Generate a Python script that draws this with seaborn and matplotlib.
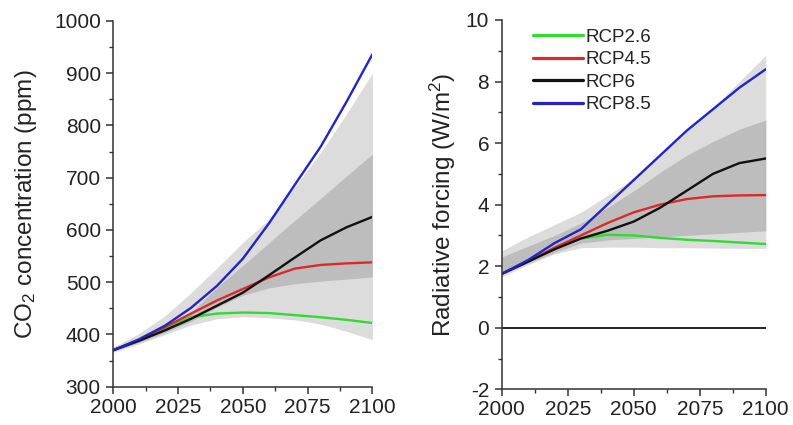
import numpy as np
import pandas as pd
import matplotlib
matplotlib.use("Agg")
import matplotlib.pyplot as plt
from matplotlib.ticker import MultipleLocator
import seaborn as sns

# ───────────────────────── data ─────────────────────────
years = [2000, 2010, 2020, 2030, 2040, 2050, 2060, 2070, 2080, 2090, 2100]
scenarios = ["RCP2.6", "RCP4.5", "RCP6", "RCP8.5"]
colors = ["#2fdc2f", "#dc2a2a", "#111111", "#2323c8"]

# CO2 concentration (ppm)
co2_rcp26 = [370, 389, 412, 433, 440, 442, 441, 437, 433, 428, 422]
co2_rcp45 = [370, 390, 414, 440, 465, 487, 509, 526, 533, 536, 538]
co2_rcp60 = [370, 388, 408, 430, 455, 480, 513, 547, 580, 605, 625]
co2_rcp85 = [370, 391, 417, 451, 493, 545, 612, 686, 759, 845, 936]
co2_light_lo = [366, 382, 400, 418, 430, 434, 432, 428, 420, 406, 390]
co2_light_hi = [376, 402, 436, 480, 527, 576, 620, 682, 748, 822, 900]
co2_dark_lo = [368, 385, 404, 425, 452, 475, 489, 497, 502, 506, 510]
co2_dark_hi = [372, 390, 414, 442, 490, 532, 575, 618, 660, 703, 745]

# Radiative forcing (W/m2)
rf_rcp26 = [1.75, 2.15, 2.6, 2.9, 3.02, 3.0, 2.92, 2.86, 2.82, 2.77, 2.72]
rf_rcp45 = [1.75, 2.15, 2.6, 3.0, 3.4, 3.75, 4.0, 4.18, 4.27, 4.3, 4.31]
rf_rcp60 = [1.75, 2.15, 2.55, 2.9, 3.15, 3.45, 3.9, 4.45, 5.0, 5.35, 5.5]
rf_rcp85 = [1.75, 2.2, 2.75, 3.2, 4.0, 4.8, 5.6, 6.4, 7.1, 7.8, 8.4]
rf_light_lo = [1.65, 2.05, 2.4, 2.6, 2.62, 2.62, 2.6, 2.6, 2.59, 2.58, 2.58]
rf_light_hi = [2.5, 2.95, 3.35, 3.75, 4.3, 4.85, 5.6, 6.4, 7.15, 8.0, 8.85]
rf_dark_lo = [1.75, 2.1, 2.45, 2.75, 2.85, 2.9, 2.95, 3.0, 3.05, 3.1, 3.15]
rf_dark_hi = [2.3, 2.65, 3.0, 3.4, 3.9, 4.45, 5.05, 5.6, 6.05, 6.45, 6.75]

co2_series = [co2_rcp26, co2_rcp45, co2_rcp60, co2_rcp85]
rf_series = [rf_rcp26, rf_rcp45, rf_rcp60, rf_rcp85]


def to_long(series):
    rows = []
    for name, vals in zip(scenarios, series):
        for yr, v in zip(years, vals):
            rows.append({"year": yr, "value": v, "scenario": name})
    return pd.DataFrame(rows)


co2_df = to_long(co2_series)
rf_df = to_long(rf_series)

# ───────────────────────────── style ─────────────────────────────
sns.set_style("ticks")
plt.rcParams["font.family"] = ["Liberation Sans", "DejaVu Sans"]
plt.rcParams["mathtext.fontset"] = "custom"
plt.rcParams["mathtext.rm"] = "Liberation Sans"
plt.rcParams["mathtext.it"] = "Liberation Sans:italic"
plt.rcParams["axes.unicode_minus"] = False
plt.rcParams["axes.edgecolor"] = "#333333"
plt.rcParams["axes.linewidth"] = 1.1

LIGHT = "#dcdcdc"
DARK = "#bdbdbd"
palette = dict(zip(scenarios, colors))

fig = plt.figure(figsize=(7.93, 4.25), dpi=100)
ax1 = fig.add_axes([0.1429, 0.090, 0.3267, 0.861])
ax2 = fig.add_axes([0.6327, 0.084, 0.333, 0.869])


def style_axis(ax):
    sns.despine(ax=ax)
    ax.xaxis.set_major_locator(MultipleLocator(25))
    ax.xaxis.set_minor_locator(MultipleLocator(12.5))
    ax.tick_params(which="major", length=5, width=1.1, color="#333333",
                   labelsize=15, labelcolor="#222222")
    ax.tick_params(which="minor", length=3, width=1.0, color="#333333")
    ax.tick_params(axis="y", pad=4)
    ax.tick_params(axis="x", pad=3)
    ax.set_xlim(2000, 2100)
    ax.set_xlabel("")


# ─────────────────────── left: CO2 concentration ───────────────────────
ax1.fill_between(years, co2_light_lo, co2_light_hi, color=LIGHT, lw=0)
ax1.fill_between(years, co2_dark_lo, co2_dark_hi, color=DARK, lw=0)
sns.lineplot(data=co2_df, x="year", y="value", hue="scenario",
             hue_order=scenarios, palette=palette, linewidth=1.7,
             legend=False, ax=ax1)
ax1.set_ylim(300, 1000)
ax1.yaxis.set_major_locator(MultipleLocator(100))
ax1.yaxis.set_minor_locator(MultipleLocator(50))
ax1.set_ylabel("CO$_2$ concentration (ppm)", fontsize=17.5, color="#222222",
               labelpad=11)
style_axis(ax1)

# ─────────────────────── right: radiative forcing ───────────────────────
ax2.fill_between(years, rf_light_lo, rf_light_hi, color=LIGHT, lw=0)
ax2.fill_between(years, rf_dark_lo, rf_dark_hi, color=DARK, lw=0)
ax2.axhline(0, color="#111111", lw=1.3)
sns.lineplot(data=rf_df, x="year", y="value", hue="scenario",
             hue_order=scenarios, palette=palette, linewidth=1.7, ax=ax2)
ax2.set_ylim(-2, 10)
ax2.yaxis.set_major_locator(MultipleLocator(2))
ax2.yaxis.set_minor_locator(MultipleLocator(1))
ax2.set_ylabel("Radiative forcing (W/m$^2$)", fontsize=17.5, color="#222222",
               labelpad=6)
style_axis(ax2)

leg = ax2.legend(loc="upper left", bbox_to_anchor=(0.118, 0.976),
                 frameon=False, fontsize=13.5, handlelength=2.65,
                 handletextpad=0.15, labelspacing=0.28, borderaxespad=0,
                 borderpad=0)
for line in leg.get_lines():
    line.set_linewidth(2.3)
for t in leg.get_texts():
    t.set_color("#222222")

fig.savefig("out.png", dpi=100)
